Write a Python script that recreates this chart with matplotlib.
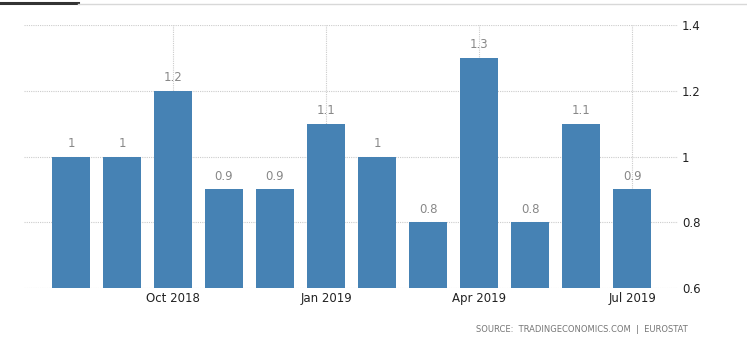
import matplotlib.pyplot as plt
from matplotlib.lines import Line2D

months = ["Aug 2018", "Sep 2018", "Oct 2018", "Nov 2018", "Dec 2018", "Jan 2019",
          "Feb 2019", "Mar 2019", "Apr 2019", "May 2019", "Jun 2019", "Jul 2019"]
values = [1.0, 1.0, 1.2, 0.9, 0.9, 1.1, 1.0, 0.8, 1.3, 0.8, 1.1, 0.9]
tick_months = ["Oct 2018", "Jan 2019", "Apr 2019", "Jul 2019"]
y_ticks = [0.6, 0.8, 1.0, 1.2, 1.4]
source = "SOURCE:  TRADINGECONOMICS.COM  |  EUROSTAT"

W, H = 747, 343
fig = plt.figure(figsize=(W / 100, H / 100), dpi=100)
fig.patch.set_facecolor("white")

# plot area in pixels: left 24, right 678, top 25, bottom 288
ax = fig.add_axes([24 / W, 1 - 288 / H, (678 - 24) / W, (288 - 25) / H])
ax.set_facecolor("white")

x = list(range(len(months)))
ax.bar(x, [v - 0.6 for v in values], bottom=0.6, width=0.745,
       color="#4682b4", zorder=3)

for xi, v in zip(x, values):
    lbl = "%g" % v
    ax.text(xi, v + 0.02, lbl, ha="center", va="bottom", fontsize=8.5,
            color="#888888", zorder=4)

ax.set_xlim(-0.92, 11.9)
ax.set_ylim(0.6, 1.4)

ax.set_xticks([months.index(m) for m in tick_months])
ax.set_xticklabels(tick_months, fontsize=8.5, color="#222222")
ax.set_yticks(y_ticks)
ax.set_yticklabels(["%g" % t for t in y_ticks], fontsize=8.5, color="#222222")
ax.yaxis.tick_right()
ax.tick_params(axis="both", length=0)
ax.tick_params(axis="x", pad=3)
ax.tick_params(axis="y", pad=3)

ax.grid(True, color="#cccccc", linestyle=(0, (1, 1)), linewidth=0.8, zorder=0)
for s in ax.spines.values():
    s.set_visible(False)

fig.text(688 / W, 1 - 329 / H, source, ha="right", va="center",
         fontsize=6.0, color="#777777")

# tab strip along the top edge
fig.add_artist(Line2D([1 / W, 78 / W], [1 - 2.5 / H] * 2, color="#333333",
                      linewidth=2.2, transform=fig.transFigure))
fig.add_artist(Line2D([78 / W, 1.0], [1 - 3.5 / H] * 2, color="#d8d8d8",
                      linewidth=1.0, transform=fig.transFigure))

fig.savefig("out.png", dpi=100)
